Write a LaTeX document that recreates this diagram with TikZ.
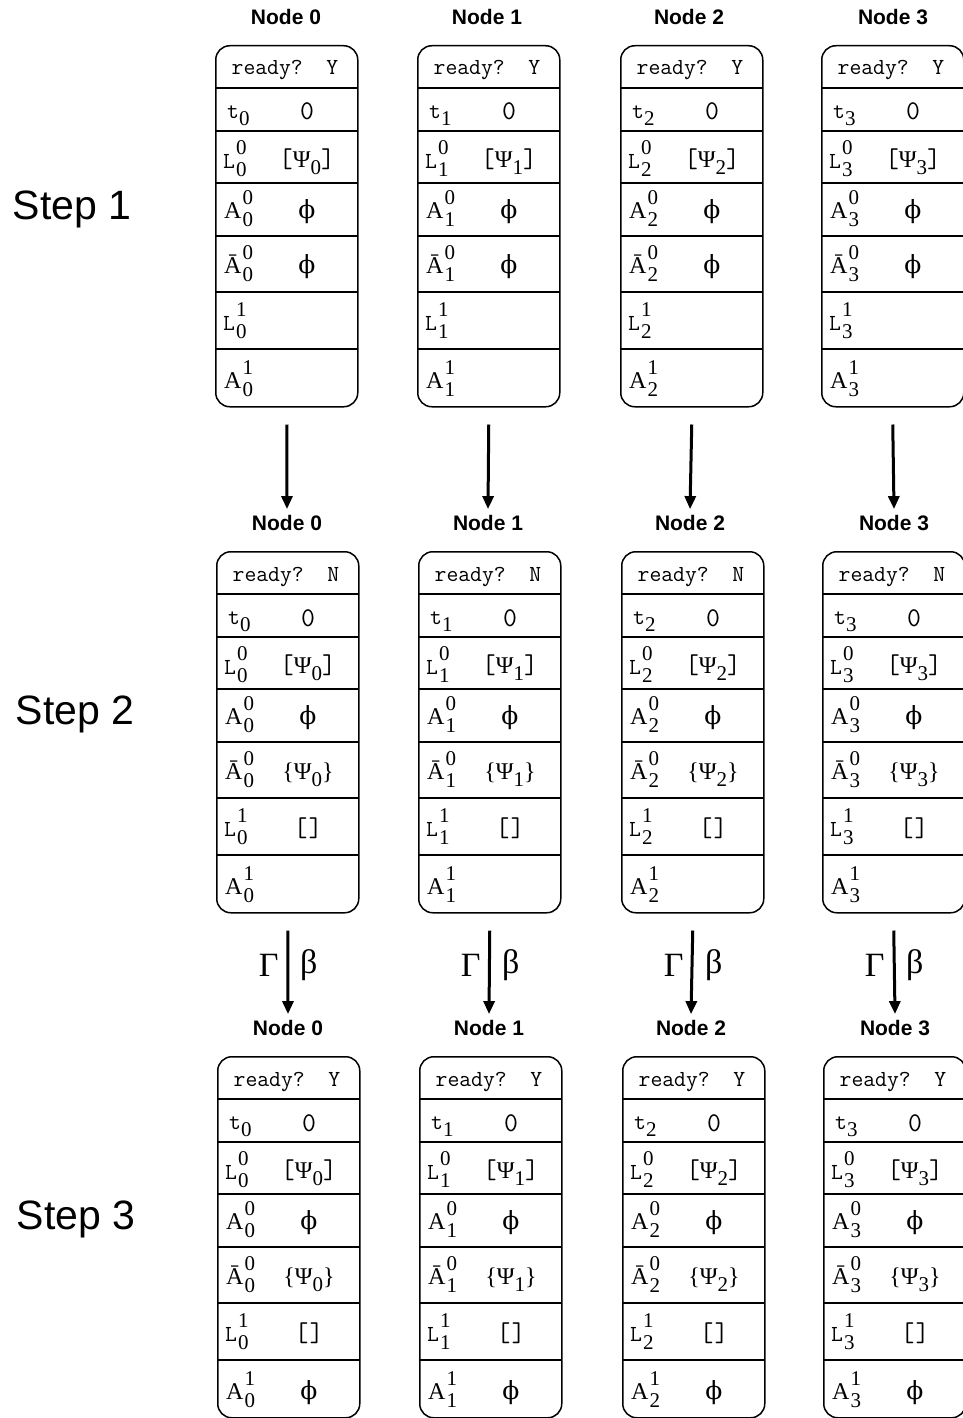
\documentclass[tikz,border=0pt]{standalone}
\usepackage{fontspec}
\setmainfont{Liberation Serif}
\setsansfont{Liberation Sans}
\newfontfamily\phifont{DejaVu Serif}
\usetikzlibrary{arrows.meta}
\newcommand\supsz{\fontsize{21}{24}\selectfont\rmfamily}
\newcommand\monosz{\fontsize{23}{26}\selectfont\ttfamily}
\newcommand\bigmono{\fontsize{27}{30}\selectfont\ttfamily}
\newcommand\ph{{\phifont\fontsize{25}{28}\selectfont ϕ}}
\newcommand\lo[1]{\raisebox{-7pt}{\supsz #1}}
\newcommand\lbl[3]{#1\kern1pt\rlap{\raisebox{14pt}{\supsz #2}}\raisebox{-8pt}{\supsz #3}}
\tikzset{
  hdr/.style={font=\sffamily\bfseries\fontsize{21}{24}\selectfont, inner sep=1pt},
  stepl/.style={font=\sffamily\fontsize{41}{46}\selectfont},
  boxs/.style={draw, line width=1.5pt, rounded corners=14pt, minimum width=142pt, minimum height=361pt, inner sep=0pt},
  rowl/.style={line width=1.3pt},
  rowthick/.style={line width=2.8pt},
  txt/.style={font=\rmfamily\fontsize{24}{28}\selectfont, inner sep=0pt},
  arr/.style={line width=3pt, -{Triangle[length=13pt,width=11pt]}},
  gl/.style={font=\rmfamily\fontsize{34}{38}\selectfont, inner sep=0pt},
}
\begin{document}
\begin{tikzpicture}[x=1pt,y=-1pt]
\useasboundingbox (0,0) rectangle (963,1418);
\node[stepl] (s1) at (72,209) {Step 1};
\node[stepl] (s2) at (75,714) {Step 2};
\node[stepl] (s3) at (76,1219) {Step 3};
\foreach \s/\yy/\dx/\rd in {1/45/0/Y, 2/551/1/N, 3/1056/2/Y}{
 \foreach \c/\xx/\hx in {0/215/286,1/417/487,2/620/689,3/821/893}{
  \pgfmathsetmacro\bx{\xx+\dx}
  \node[hdr] (h-\s-\c) at (\hx+\dx,\yy-28) {Node \c};
  \node[boxs, anchor=north west] (b-\s-\c) at (\bx,\yy) {};
  \foreach \o in {43,86,138,191,304}
    \draw[rowl] (\bx,\yy+\o) -- (\bx+142,\yy+\o);
  \draw[rowthick] (\bx,\yy+247) -- (\bx+142,\yy+247);
  \node[txt, anchor=base] (rd-\s-\c) at (\bx+70,\yy+30) {\monosz ready?~~\rd};
  \node[txt, anchor=base west] (tl-\s-\c) at (\bx+12,\yy+73) {{\monosz t}\lo{\c}};
  \node[txt, anchor=base] (tv-\s-\c) at (\bx+92,\yy+75) {\bigmono 0};
  \node[txt, anchor=base west] (ll-\s-\c) at (\bx+8,\yy+123) {\lbl{{\monosz L}}{0}{\c}};
  \node[txt, anchor=base] (lv-\s-\c) at (\bx+92,\yy+122) {{\bigmono[}Ψ\lo{\c}{\bigmono]}};
  \node[txt, anchor=base west] (al-\s-\c) at (\bx+9,\yy+173) {\lbl{A}{0}{\c}};
  \node[txt, anchor=base] (av-\s-\c) at (\bx+92,\yy+173) {\ph};
  \node[txt, anchor=base west] (bl-\s-\c) at (\bx+9,\yy+228) {\lbl{\=A}{0}{\c}};
  \node[txt, anchor=base] (bv-\s-\c) at (\bx+92,\yy+228) {\ifnum\s=1\relax\ph\else\{Ψ\lo{\c}\}\fi};
  \node[txt, anchor=base west] (ml-\s-\c) at (\bx+8,\yy+285) {\lbl{{\monosz L}}{1}{\c}};
  \node[txt, anchor=base] (mv-\s-\c) at (\bx+92,\yy+285) {\ifnum\s=1\relax\else{\bigmono[\kern1pt]}\fi};
  \node[txt, anchor=base west] (nl-\s-\c) at (\bx+9,\yy+343) {\lbl{A}{1}{\c}};
  \node[txt, anchor=base] (nv-\s-\c) at (\bx+92,\yy+343) {\ifnum\s=3\relax\ph\fi};
 }}
\foreach \c in {0,1,2,3}{
  \draw[arr] ([yshift=-17pt]b-1-\c.south) -- ([yshift=5pt]h-2-\c.north);
  \draw[arr] ([yshift=-17pt]b-2-\c.south) -- ([yshift=5pt]h-3-\c.north);
  \node[gl] (G-\c) at ([xshift=-19pt,yshift=-52pt]b-2-\c.south) {Γ};
  \node[gl] (B-\c) at ([xshift=21pt,yshift=-52pt]b-2-\c.south) {β};
}
\end{tikzpicture}
\end{document}
